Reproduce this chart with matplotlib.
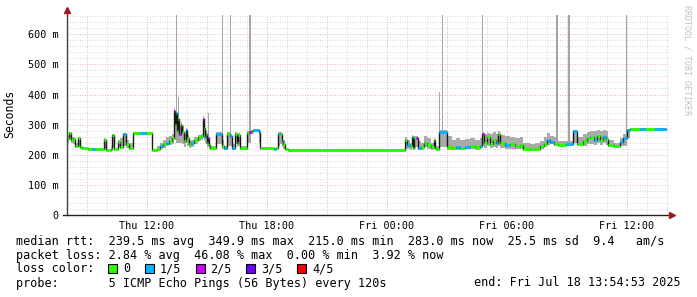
import matplotlib
matplotlib.use("Agg")
import matplotlib.pyplot as plt
from matplotlib.lines import Line2D
from matplotlib.patches import Rectangle
from matplotlib.ticker import MultipleLocator, FuncFormatter

# median steps: minutes after Thu 08:00, median rtt (ms), lost pings of 5, smoke range (ms)
step_min = [0, 6, 12, 18, 24, 33, 39, 45, 63, 75, 84, 111, 117, 132, 135, 141, 153, 159, 168, 177,
            186, 198, 219, 237, 255, 270, 279, 288, 297, 306, 315, 321, 324, 327, 330, 333, 336, 342, 345, 351,
            357, 360, 366,
            372, 381, 393, 402, 408, 411, 414, 417, 420, 423, 426, 429, 447, 465, 471, 480, 489, 495, 504, 510,
            513, 519, 540, 546, 555, 558, 576, 579, 621, 627, 633, 639, 645, 648, 654, 663,
            1014, 1020, 1029, 1035, 1038, 1041, 1047, 1053, 1062, 1071, 1080, 1092, 1101, 1104, 1107, 1116,
            1140, 1155, 1167, 1179, 1194, 1209, 1224, 1239, 1245, 1251, 1260, 1269, 1278, 1287, 1293, 1299,
            1314, 1329, 1344, 1359, 1368, 1389, 1404, 1419, 1431, 1440, 1449, 1461, 1473, 1497, 1518, 1530,
            1548, 1560, 1569, 1581, 1590, 1599, 1608, 1617, 1623, 1641, 1659, 1668, 1680, 1689, 1719, 1734,
            1764, 1785]
end_min = 1797

median_ms = [256, 271, 250, 252, 228, 255, 225, 221, 218, 218, 218, 250, 217, 220, 265, 218, 243, 225, 268, 235,
             222, 271, 273, 271, 215, 220, 228, 235, 240, 245, 255, 345, 300, 340, 280, 320, 268, 300, 275, 245,
             282, 255, 235,
             240, 250, 258, 262, 320, 290, 260, 270, 240, 255, 232, 221, 270, 230, 221, 268, 262, 222, 270, 240,
             265, 221, 272, 277, 278, 282, 275, 221, 220, 222, 268, 270, 245, 235, 218, 216,
             250, 232, 228, 260, 222, 254, 254, 222, 226, 240, 232, 226, 248, 222, 218, 276,
             226, 224, 226, 222, 226, 228, 225, 230, 268, 240, 258, 235, 250, 238, 270, 240,
             232, 235, 228, 232, 220, 218, 220, 230, 236, 250, 243, 237, 234, 236, 278, 236,
             245, 254, 258, 250, 262, 248, 260, 252, 232, 228, 243, 254, 282, 285, 286, 284,
             286, 284]

loss_of5 = [0, 0, 0, 0, 0, 0, 0, 0, 0, 1, 0, 0, 0, 0, 0, 0, 0, 0, 1, 0,
            0, 0, 1, 0, 0, 0, 1, 0, 1, 0, 0, 2, 0, 1, 0, 0, 2, 0, 0, 0,
            1, 0, 0,
            1, 0, 0, 0, 2, 0, 1, 0, 0, 2, 0, 0, 1, 0, 1, 0, 1, 1, 0, 0,
            0, 0, 0, 2, 0, 1, 1, 0, 1, 0, 1, 0, 1, 0, 0, 0,
            0, 1, 0, 1, 0, 0, 2, 1, 0, 0, 0, 0, 0, 0, 0, 1,
            0, 0, 1, 0, 1, 0, 0, 1, 2, 0, 0, 0, 0, 1, 0, 0,
            1, 0, 0, 0, 0, 0, 0, 0, 0, 1, 1, 0, 0, 1, 1, 0,
            0, 0, 0, 1, 0, 0, 1, 0, 0, 0, 1, 1, 1, 0, 1, 0,
            1, 1]

smoke_lo = [240, 250, 240, 235, 222, 225, 220, 218, 216, 216, 216, 220, 215, 217, 225, 216, 225, 220, 230, 222,
            218, 265, 268, 266, 212, 215, 218, 222, 228, 232, 235, 260, 250, 270, 240, 250, 240, 240, 235, 225,
            240, 230, 222,
            225, 235, 245, 250, 255, 250, 240, 235, 225, 225, 220, 216, 235, 220, 216, 230, 230, 217, 235, 225,
            230, 216, 240, 270, 272, 276, 240, 216, 216, 217, 230, 235, 225, 220, 215, 214,
            220, 218, 216, 225, 216, 222, 225, 216, 216, 225, 220, 216, 220, 216, 215, 225,
            215, 216, 217, 216, 218, 218, 216, 218, 230, 222, 228, 222, 225, 222, 230, 222,
            220, 220, 218, 220, 214, 214, 215, 220, 225, 232, 235, 230, 232, 232, 240, 232,
            230, 235, 235, 232, 238, 232, 238, 232, 225, 222, 228, 230, 255, 280, 281, 280,
            282, 280]

smoke_hi = [262, 275, 258, 258, 240, 260, 230, 224, 221, 221, 221, 255, 220, 225, 268, 222, 250, 255, 272, 250,
            240, 275, 276, 275, 220, 228, 240, 250, 258, 262, 270, 355, 340, 360, 320, 330, 300, 310, 295, 270,
            290, 265, 245,
            250, 258, 265, 268, 330, 300, 275, 280, 260, 265, 250, 230, 275, 250, 230, 275, 270, 235, 276, 260,
            272, 228, 278, 282, 283, 286, 282, 226, 224, 226, 275, 276, 268, 250, 222, 219,
            258, 248, 240, 265, 240, 262, 262, 245, 240, 262, 255, 240, 255, 235, 230, 282,
            262, 250, 255, 248, 252, 255, 250, 255, 275, 268, 272, 270, 275, 268, 278, 265,
            262, 260, 255, 258, 240, 235, 238, 245, 258, 272, 262, 260, 245, 245, 282, 260,
            268, 275, 278, 280, 282, 278, 282, 280, 250, 240, 255, 268, 286, 290, 290, 289,
            290, 288]

# single samples whose slowest ping went far above the rest
spike_min = [328.5, 336, 424.5, 468, 492, 550.5, 1117.5, 1128, 1246.5, 1470, 1504.5, 1680]
spike_top = [700, 392, 338, 700, 700, 700, 409, 700, 700, 700, 700, 700]
spike_width = [5, 3, 4, 3, 3, 6, 3, 3, 3, 7, 6, 3]

loss_labels = ["0", "1/5", "2/5", "3/5", "4/5"]
loss_colors = ["#26ff00", "#00b8ff", "#cc00ff", "#6a00ff", "#ff0000"]

W, H = 697, 297


def px(x, y):
    return x / W, 1 - y / H


fig = plt.figure(figsize=(W / 100, H / 100), dpi=100)
ax = fig.add_axes([67 / W, 82 / H, 602 / W, 200 / H])

hours = [8 + m / 60 for m in step_min] + [8 + end_min / 60]
lo = smoke_lo + [smoke_lo[-1]]
hi = smoke_hi + [smoke_hi[-1]]
med = median_ms + [median_ms[-1]]

ax.fill_between(hours, lo, hi, step="post", color="#aaaaaa", lw=0, zorder=2)
ax.bar([8 + m / 60 for m in spike_min], [t - 240 for t in spike_top], bottom=240,
       width=[w / 60 for w in spike_width], color="#a4a4a4", lw=0, zorder=2)
ax.step(hours, med, where="post", color="#1a1a1a", lw=1.0, zorder=3)
for i in range(len(median_ms)):
    ax.hlines(median_ms[i], hours[i], hours[i + 1], color=loss_colors[loss_of5[i]],
              lw=2.1, zorder=4, capstyle="butt")

ax.set_xlim(8.0, 38.1)
ax.set_ylim(0, 664)
for s in ax.spines.values():
    s.set_visible(False)

ax.xaxis.set_major_locator(MultipleLocator(3))
ax.xaxis.set_minor_locator(MultipleLocator(1))
ax.yaxis.set_major_locator(MultipleLocator(100))
ax.yaxis.set_minor_locator(MultipleLocator(20))


def xfmt(h, pos):
    h = int(round(h))
    if h % 6:
        return ""
    return "%s %02d:00" % (["Thu", "Fri"][h // 24], h % 24)


ax.xaxis.set_major_formatter(FuncFormatter(xfmt))
ax.yaxis.set_major_formatter(FuncFormatter(lambda v, p: "%d m" % v if v else "0"))
ax.grid(which="minor", color="#c8c8c8", lw=0.6, ls=(0, (1, 2)), zorder=1)
ax.grid(which="major", color="#e49a9a", lw=0.6, ls=(0, (1, 2)), zorder=1)
ax.tick_params(which="both", length=0)
ax.tick_params(axis="x", pad=4)
ax.tick_params(axis="y", pad=6)
for lab in ax.get_xticklabels() + ax.get_yticklabels():
    lab.set_family("DejaVu Sans Mono")
    lab.set_fontsize(7.3)
    lab.set_color("#000000")

# axis lines with arrows
fig.add_artist(Line2D(*zip(px(67, 215), px(67, 12)), color="#404040", lw=1, transform=fig.transFigure))
fig.add_artist(Line2D(*zip(px(63, 215), px(670, 215)), color="#202020", lw=1, transform=fig.transFigure))
fig.add_artist(Line2D([px(67, 10)[0]], [px(67, 10)[1]], marker="^", ms=4.5, color="#a01818",
                      transform=fig.transFigure))
fig.add_artist(Line2D([px(672, 215)[0]], [px(672, 215)[1]], marker=">", ms=4.5, color="#a01818",
                      transform=fig.transFigure))

mono = dict(family="DejaVu Sans Mono", fontsize=8.5, va="center", ha="left", color="#000000")
fig.text(*px(10, 114), "Seconds", rotation=90, family="DejaVu Sans Mono", fontsize=8.3,
         va="center", ha="center")
fig.text(*px(687, 60), "RRDTOOL / TOBI OETIKER", rotation=270, family="DejaVu Sans Mono",
         fontsize=6, va="center", ha="center", color="#c0c0c0")

fig.text(*px(16, 241), "median rtt:  239.5 ms avg  349.9 ms max  215.0 ms min  283.0 ms now  25.5 ms sd  9.4   am/s", **mono)
fig.text(*px(16, 255), "packet loss: 2.84 % avg  46.08 % max  0.00 % min  3.92 % now", **mono)
fig.text(*px(16, 269), "loss color:", **mono)
bx = 108
for lab, col in zip(loss_labels, loss_colors):
    fig.add_artist(Rectangle(px(bx, 273), 9 / W, 9 / H, facecolor=col, edgecolor="#000000",
                             lw=0.8, transform=fig.transFigure))
    fig.text(*px(bx + 15, 269), lab, **mono)
    bx = bx + 15 + 7.13 * len(lab) + 14.5
fig.text(*px(16, 283), "probe:       5 ICMP Echo Pings (56 Bytes) every 120s", **mono)
fig.text(*px(681, 283), "end: Fri Jul 18 13:54:53 2025", **dict(mono, ha="right"))

fig.savefig("out.png", dpi=100)
